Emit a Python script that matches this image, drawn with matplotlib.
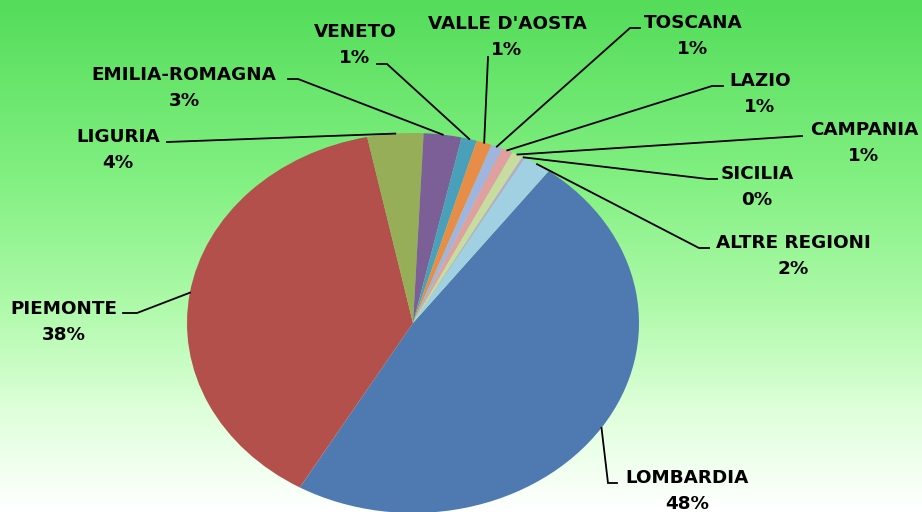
import numpy as np
import matplotlib
matplotlib.use("Agg")
import matplotlib.pyplot as plt
from matplotlib.colors import LinearSegmentedColormap

# data
regions = ["LOMBARDIA", "PIEMONTE", "LIGURIA", "EMILIA-ROMAGNA", "VENETO",
           "VALLE D'AOSTA", "TOSCANA", "LAZIO", "CAMPANIA", "SICILIA",
           "ALTRE REGIONI"]
values = [48.1, 38.4, 4.0, 2.7, 1.1, 1.1, 0.8, 0.8, 0.8, 0.2, 2.0]

colors = ["#4E7AB1", "#B4504C", "#96AE57", "#7D5F98", "#4AA0BA", "#E88D47",
          "#A0B4E0", "#E0A0A0", "#C8DCA0", "#B8A8D0", "#A0D0E2"]

# label layout in pixels: text centre (x, y of first line), leader start, elbow
label_xy = [(687, 478), (64, 309), (118, 137), (184, 75), (355, 32),
            (507, 24), (693, 23), (760, 81), (864, 130), (757, 174),
            (793, 243)]
lead_start = [(617, 483), (123, 313), (167, 142), (288, 79), (377, 64),
              (488, 57), (640, 28), (723, 86), (802, 136), (717, 179),
              (709, 248)]
lead_elbow = [(608, 483), (137, 313), (167, 142), (298, 79), (387, 64),
              (488, 57), (630, 28), (712, 86), (802, 136), (708, 179),
              (699, 248)]

W, H = 922, 512
fig = plt.figure(figsize=(W / 100, H / 100), dpi=100)

# background gradient
bg = fig.add_axes([0, 0, 1, 1], zorder=0)
cmap = LinearSegmentedColormap.from_list("bg", [
    (0.0, (84 / 255, 220 / 255, 90 / 255)),
    (0.35, (130 / 255, 240 / 255, 130 / 255)),
    (0.6, (175 / 255, 250 / 255, 170 / 255)),
    (0.8, (222 / 255, 255 / 255, 218 / 255)),
    (1.0, (1, 1, 1)),
])
grad = np.linspace(0, 1, 256).reshape(-1, 1)
bg.imshow(grad, cmap=cmap, aspect="auto", extent=[0, 1, 0, 1], origin="upper")
bg.set_axis_off()

# pie (slightly elliptical like the original)
cx, cy, rx, ry = 413, 323, 226, 190
ax = fig.add_axes([(cx - rx) / W, (H - cy - ry) / H, 2 * rx / W, 2 * ry / H],
                  zorder=1)
wedges, _ = ax.pie(values, colors=colors, startangle=53.1, counterclock=False,
                   radius=1, wedgeprops=dict(linewidth=0))
ax.set_aspect("auto")
ax.set_xlim(-1, 1)
ax.set_ylim(-1, 1)
ax.set_axis_off()

# overlay for leader lines and labels, in pixel coordinates
ov = fig.add_axes([0, 0, 1, 1], zorder=2)
ov.set_xlim(0, W)
ov.set_ylim(H, 0)
ov.set_axis_off()
ov.patch.set_alpha(0)

total = sum(values)
for i, w in enumerate(wedges):
    mid = np.deg2rad((w.theta1 + w.theta2) / 2)
    edge = ax.transData.transform((np.cos(mid), np.sin(mid)))
    ex, ey = ov.transData.inverted().transform(edge)
    sx, sy = lead_start[i]
    bx, by = lead_elbow[i]
    ov.plot([sx, bx, ex], [sy, by, ey], color="black", lw=1.3,
            solid_joinstyle="miter")
    tx, ty = label_xy[i]
    pct = f"{round(values[i] / total * 100):.0f}%"
    ov.text(tx, ty, regions[i], ha="center", va="center", fontsize=13.2,
            fontweight="bold", family="DejaVu Sans")
    ov.text(tx, ty + 26, pct, ha="center", va="center", fontsize=13.2,
            fontweight="bold", family="DejaVu Sans")

fig.savefig("out.png", dpi=100)
